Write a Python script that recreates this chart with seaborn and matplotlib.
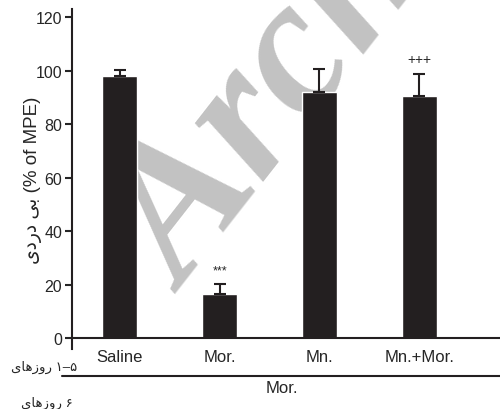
import matplotlib
matplotlib.use('Agg')
import matplotlib.pyplot as plt
import seaborn as sns
import numpy as np
from matplotlib.lines import Line2D

# data
groups = ['Saline', 'Mor.', 'Mn.', 'Mn.+Mor.']
means = [98.0, 16.4, 92.0, 90.7]
sem = [2.3, 3.7, 8.7, 8.2]
marks = ['', '***', '', '+++']
yticks = [0, 20, 40, 60, 80, 100, 120]

# Persian text written in visual order with presentation forms
ylab_fa = '\uFEEF\uFEA9\uFEAD\uFEA9 \uFEF0\uFE91'          # بی دردی
days15 = '\uFEEF\uFE8E\uFEEB\uFEAF\uFEED\uFEAD \u06F1\u2013\u06F5'  # روزهای ۱-۵
days6 = '\uFEEF\uFE8E\uFEEB\uFEAF\uFEED\uFEAD \u06F6'                # روزهای ۶
day6_drug = 'Mor.'

sns.set_style('ticks')
plt.rcParams['font.family'] = ['Liberation Sans', 'DejaVu Sans']

fig = plt.figure(figsize=(5, 4.1), dpi=100)
ax = fig.add_axes([0.144, 0.146, 0.856, 0.829])

# watermark, behind the bars
ax.text(0.37, 0.28, 'Archive', transform=fig.transFigure, color='#c2c2c2', fontsize=140,
        family='Liberation Serif', style='italic', fontweight='bold', rotation=52,
        rotation_mode='anchor', ha='left', va='baseline', zorder=1, clip_on=False)

sns.barplot(x=groups, y=means, color='#231f20', saturation=1, width=0.35, ax=ax, zorder=3)
x = np.arange(len(groups))
ax.errorbar(x, means, yerr=[np.zeros(len(sem)), sem], fmt='none', ecolor='#231f20',
            elinewidth=1.5, capsize=4.5, capthick=1.5, zorder=4)
for xi, m, s, t in zip(x, means, sem, marks):
    if t:
        ax.text(xi, m + s + 3, t, ha='center', va='bottom', fontsize=10 if t == '+++' else 9)

ax.set_ylim(-4.1, 123)
ax.set_xlim(-0.48, 3.81)
ax.set_yticks(yticks)
ax.spines['bottom'].set_position(('data', 0))
ax.spines['top'].set_visible(False)
ax.spines['right'].set_visible(False)
for sp in ['left', 'bottom']:
    ax.spines[sp].set_linewidth(1.5)
    ax.spines[sp].set_color('#231f20')
    ax.spines[sp].set_zorder(5)
ax.tick_params(axis='y', length=5, width=1.5, labelsize=11.5, pad=2)
ax.tick_params(axis='x', length=0, labelsize=12, pad=8)
ax.set_xlabel('')
ax.set_ylabel(ylab_fa + ' (% of MPE)', fontsize=13.5)
ax.yaxis.set_label_coords(-0.07, 0.5)
ax.patch.set_alpha(0)

# lower treatment annotation
fig.text(0.154, 0.103, days15, ha='right', va='center', fontsize=9.5)
fig.add_artist(Line2D([0.124, 1.0], [0.080, 0.080], color='#231f20', lw=1.5,
                      transform=fig.transFigure))
fig.text(0.564, 0.052, day6_drug, ha='center', va='center', fontsize=12)
fig.text(0.146, 0.017, days6, ha='right', va='center', fontsize=9.5)

fig.savefig('out.png', dpi=100)
